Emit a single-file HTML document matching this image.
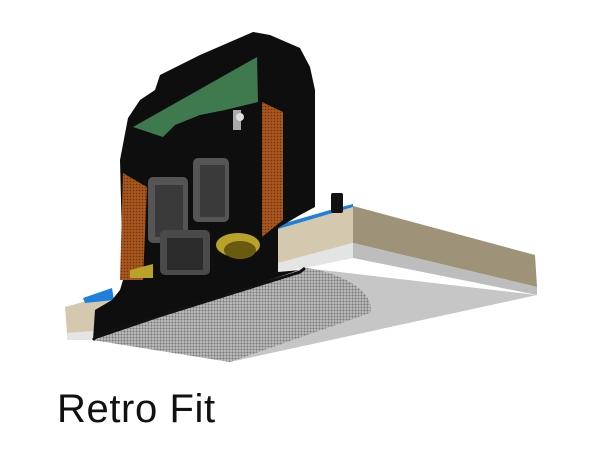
<!DOCTYPE html>
<html><head><meta charset="utf-8"><style>
html,body{margin:0;padding:0;background:#fff;width:600px;height:450px;overflow:hidden}
.t{position:absolute;left:57px;top:387px;font-family:"Liberation Sans",sans-serif;font-size:40px;color:#111;letter-spacing:0.6px}
</style></head><body>
<svg width="600" height="450" style="position:absolute;left:0;top:0">
<defs>
<pattern id="mesh" width="3" height="3" patternUnits="userSpaceOnUse">
<rect width="3" height="3" fill="#c2c2c2"/><circle cx="1.5" cy="1.5" r="1.1" fill="#7a7a7a"/>
</pattern>
<pattern id="or" width="3" height="3" patternUnits="userSpaceOnUse">
<rect width="3" height="3" fill="#a8561c"/><circle cx="1.5" cy="1.5" r="0.8" fill="#6a3210"/>
</pattern>
</defs>
<polygon points="305,268 537,295 230,362 93,340" fill="#c6c6c6"/>
<polygon points="353,206 535,255 537,287 353,243" fill="#9e9379"/>
<polygon points="353,243 537,287 537,295 353,258" fill="#bdbdbd"/>
<polygon points="278,228 353,206 353,243 278,263" fill="#d4c9ae"/>
<polygon points="278,263 353,243 353,258 305,268 278,272" fill="#e4e4e4"/>
<polygon points="275,226 330,210 353,204 353,207 278,229 278,244 272,245" fill="#1e7fdc"/>
<polygon points="65,307 112,294 112,330 67,333" fill="#d4c9ae"/>
<polygon points="67,333 112,330 112,336 93,340 67,340" fill="#e4e4e4"/>
<polygon points="83,298 112,288 114,300 85,303" fill="#1e7fdc"/>
<path d="M123,280 L120,160 L128,118 L140,100 L155,90 L160,75 L200,55 L253,32 L270,35 L300,48 L310,67 L315,90 L315,207 L300,215 L278,228 L278,272 L300,270 L305,268 L93,340 L95,310 L112,300 L120,290 Z" fill="#0e0e0e"/>
<polygon points="133,127 257,57 258,102 225,110 200,115 175,125 163,137" fill="#3f7a4f"/>
<polygon points="123,173 147,187 143,280 120,280" fill="url(#or)"/>
<polygon points="262,102 283,112 283,220 262,237" fill="url(#or)"/>
<rect x="148" y="177" width="40" height="66" rx="5" fill="#555"/>
<rect x="155" y="185" width="28" height="52" fill="#3a3a3a"/>
<rect x="193" y="158" width="36" height="64" rx="5" fill="#555"/>
<rect x="200" y="165" width="25" height="52" fill="#3a3a3a"/>
<rect x="160" y="230" width="50" height="45" rx="5" fill="#4a4a4a"/>
<rect x="167" y="238" width="36" height="32" fill="#2c2c2c"/>
<ellipse cx="238" cy="245" rx="22" ry="12" fill="#b8a22a"/>
<ellipse cx="240" cy="250" rx="16" ry="9" fill="#6a5a10"/>
<polygon points="130,270 153,264 153,278 130,278" fill="#b8a22a"/>
<rect x="233" y="110" width="8" height="20" fill="#aaa"/>
<circle cx="240" cy="117" r="4" fill="#ddd"/>
<path d="M93,340 L230,362 L370,313 C375,295 350,275 307,268 Z" fill="url(#mesh)"/>
<path d="M93,340 L98,335 L300,272 L305,268" stroke="#111" stroke-width="3" fill="none"/>
<rect x="331" y="193" width="12" height="20" rx="2" fill="#111"/>
</svg>
<div class="t">Retro Fit</div>
</body></html>
